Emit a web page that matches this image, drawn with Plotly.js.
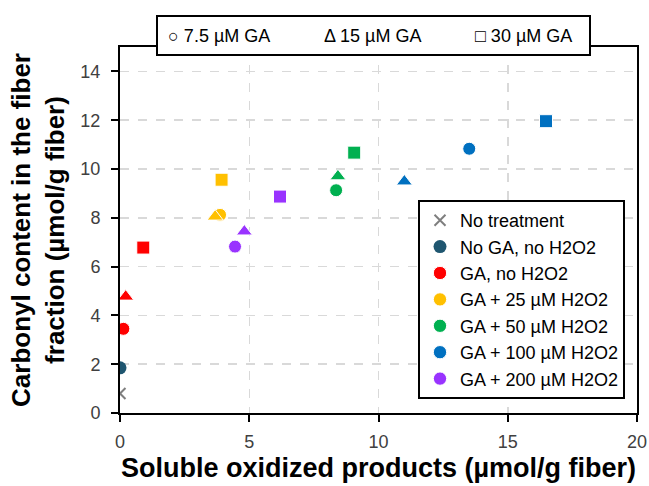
<!DOCTYPE html>
<html>
<head>
<meta charset="utf-8">
<script src="https://cdn.plot.ly/plotly-3.0.1.min.js"></script>
<style>html,body{margin:0;padding:0;background:#fff;}#chart{width:649px;height:486px;}</style>
</head>
<body>
<div id="chart"></div>
<script>
// Series names
const seriesNames = ['No treatment', 'No GA, no H2O2', 'GA, no H2O2', 'GA + 25 µM H2O2', 'GA + 50 µM H2O2', 'GA + 100 µM H2O2', 'GA + 200 µM H2O2'];
// Points within each GA series: 7.5 µM GA, 15 µM GA, 30 µM GA
const gaLevels = ['○ 7.5 µM GA', 'Δ 15 µM GA', '□ 30 µM GA'];

const noTreatX = [0];
const noTreatY = [0.8];
const noGaX = [0];
const noGaY = [1.85];
const ga0X = [0.13, 0.22, 0.9];
const ga0Y = [3.45, 4.77, 6.78];
const ga25X = [3.87, 3.68, 3.93];
const ga25Y = [8.12, 8.05, 9.56];
const ga50X = [8.36, 8.43, 9.06];
const ga50Y = [9.13, 9.7, 10.67];
const ga100X = [13.51, 11.0, 16.48];
const ga100Y = [10.83, 9.49, 11.96];
const ga200X = [4.45, 4.81, 6.19];
const ga200Y = [6.82, 7.44, 8.87];

const xTicks = [0, 5, 10, 15, 20];
const yTicks = [0, 2, 4, 6, 8, 10, 12, 14];

const colors = ['#7F7F7F', '#1F5670', '#FF0000', '#FFC000', '#00B050', '#0070C0', '#9933FF'];
const syms = ['circle', 'triangle-up', 'square'];
const sizes = [13, 14, 13];

const font = 'Liberation Sans, Arial, sans-serif';

const traces = [];
traces.push({
  x: noTreatX, y: noTreatY, type: 'scatter', mode: 'markers', name: seriesNames[0],
  legendgroup: 'g0',
  marker: {symbol: 'x-thin', size: 11, color: colors[0], opacity: 1, line: {color: colors[0], width: 2}}
});
traces.push({
  x: noGaX, y: noGaY, type: 'scatter', mode: 'markers', name: seriesNames[1],
  legendgroup: 'g1',
  marker: {symbol: 'circle', size: 13, color: colors[1], opacity: 1}
});
const gaSeries = [[ga0X, ga0Y], [ga25X, ga25Y], [ga50X, ga50Y], [ga100X, ga100Y], [ga200X, ga200Y]];
gaSeries.forEach((s, i) => {
  traces.push({
    x: s[0], y: s[1], type: 'scatter', mode: 'markers', name: seriesNames[i + 2],
    legendgroup: 'g' + (i + 2),
    marker: {symbol: syms, size: sizes, color: colors[i + 2], opacity: 1}
  });
});

const L = 120, R = 12, T = 47, B = 73;
const W = 649, H = 486;
const pw = W - L - R, ph = H - T - B;
const px = v => (v - L) / pw;
const py = v => (H - B - v) / ph;

const layout = {
  width: W, height: H,
  margin: {l: L, r: R, t: T, b: B, pad: 0},
  paper_bgcolor: '#fff', plot_bgcolor: '#fff',
  font: {family: font, color: '#404040'},
  showlegend: true,
  hovermode: false,
  xaxis: {
    range: [0, 20], tickvals: xTicks, ticktext: xTicks.map(String),
    showline: true, linecolor: '#000', linewidth: 2, mirror: true,
    ticks: 'outside', ticklen: 7, tickwidth: 2, tickcolor: '#000',
    showgrid: true, gridcolor: '#D9D9D9', gridwidth: 1.5, griddash: 'dash',
    zeroline: false, ticklabelstandoff: 4,
    tickfont: {size: 18, color: '#404040', family: font},
    title: {text: 'Soluble oxidized products (µmol/g fiber)', font: {size: 27, color: '#000', family: font, weight: 'bold'}, standoff: 8}
  },
  yaxis: {
    range: [0, 15], tickvals: yTicks, ticktext: yTicks.map(String),
    showline: true, linecolor: '#000', linewidth: 2, mirror: true,
    ticks: 'outside', ticklen: 7, tickwidth: 2, tickcolor: '#000',
    showgrid: true, gridcolor: '#D9D9D9', gridwidth: 1.5, griddash: 'dash',
    zeroline: false, ticklabelstandoff: 7,
    tickfont: {size: 18, color: '#404040', family: font},
    title: {text: 'Carbonyl content in the fiber<br>fraction (µmol/g fiber)', font: {size: 26, color: '#000', family: font, weight: 'bold'}, standoff: 8}
  },
  legend: {
    x: px(418), y: py(200), xanchor: 'left', yanchor: 'top',
    bgcolor: '#fff', bordercolor: '#000', borderwidth: 2,
    font: {size: 18, color: '#000', family: font},
    tracegroupgap: 0, itemsizing: 'trace'
  },
  shapes: [{
    type: 'rect', xref: 'paper', yref: 'paper',
    x0: px(157), x1: px(590), y0: py(55), y1: py(16),
    fillcolor: '#fff', line: {color: '#000', width: 2}, layer: 'above'
  }],
  annotations: [
    {text: gaLevels[0], xref: 'paper', yref: 'paper', x: px(166), y: py(36), xanchor: 'left', yanchor: 'middle', showarrow: false, font: {size: 18, color: '#000', family: font}},
    {text: gaLevels[1], xref: 'paper', yref: 'paper', x: px(322), y: py(36), xanchor: 'left', yanchor: 'middle', showarrow: false, font: {size: 18, color: '#000', family: font}},
    {text: gaLevels[2], xref: 'paper', yref: 'paper', x: px(473), y: py(36), xanchor: 'left', yanchor: 'middle', showarrow: false, font: {size: 18, color: '#000', family: font}}
  ]
};

Plotly.newPlot('chart', traces, layout, {displayModeBar: false, staticPlot: true});
</script>
</body>
</html>
